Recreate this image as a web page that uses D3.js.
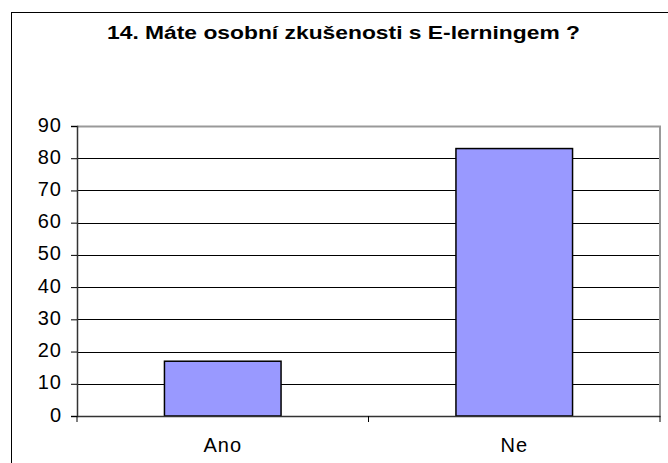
<!DOCTYPE html>
<html>
<head>
<meta charset="utf-8">
<script src="https://cdn.jsdelivr.net/npm/d3@7"></script>
<style>
  body { margin: 0; background: #fff; }
  svg text { font-family: "Liberation Sans", Arial, sans-serif; fill: #000; }
</style>
</head>
<body>
<div id="chart"></div>
<script>
const categories = ['Ano', 'Ne'];
const values = [17, 83];
const yTicks = [0, 10, 20, 30, 40, 50, 60, 70, 80, 90];
const title = '14. Máte osobní zkušenosti s E-lerningem ?';

const width = 668, height = 463;
const plot = {left: 77, right: 660, top: 126, bottom: 416};

const svg = d3.select('#chart').append('svg')
  .attr('width', width)
  .attr('height', height);

// outer chart frame
svg.append('rect')
  .attr('x', 11.5).attr('y', 12.5)
  .attr('width', width).attr('height', height)
  .attr('fill', 'none')
  .attr('stroke', '#000')
  .attr('stroke-width', 1);

svg.append('text')
  .attr('x', 343.5)
  .attr('y', 39)
  .attr('text-anchor', 'middle')
  .attr('font-size', 18)
  .attr('font-weight', 'bold')
  .attr('textLength', 473)
  .attr('lengthAdjust', 'spacingAndGlyphs')
  .text(title);

const xScale = d3.scaleBand()
  .domain(categories)
  .range([plot.left, plot.right]);

const yScale = d3.scaleLinear()
  .domain([0, 90])
  .range([plot.bottom, plot.top]);

// gridlines
svg.append('g')
  .selectAll('line')
  .data(yTicks.filter(d => d > 0 && d < 90))
  .join('line')
    .attr('x1', plot.left)
    .attr('x2', plot.right)
    .attr('y1', d => Math.round(yScale(d)) + 0.5)
    .attr('y2', d => Math.round(yScale(d)) + 0.5)
    .attr('stroke', '#000')
    .attr('stroke-width', 1);

// plot area border (grey top and right)
svg.append('path')
  .attr('d', `M${plot.left},${Math.round(yScale(90)) + 0.5}H${plot.right}V${plot.bottom}`)
  .attr('fill', 'none')
  .attr('stroke', '#999')
  .attr('stroke-width', 2);

// bars
const barW = xScale.bandwidth() * 0.4;
svg.append('g')
  .selectAll('rect')
  .data(values)
  .join('rect')
    .attr('x', (d, i) => xScale(categories[i]) + (xScale.bandwidth() - barW) / 2)
    .attr('y', d => yScale(d))
    .attr('width', barW)
    .attr('height', d => yScale(0) - yScale(d))
    .attr('fill', '#9999ff')
    .attr('stroke', '#000')
    .attr('stroke-width', 1.5);

// y axis
const yAxis = svg.append('g')
  .attr('transform', `translate(${plot.left},0)`)
  .call(d3.axisLeft(yScale).tickValues(yTicks).tickSize(6).tickPadding(9));
yAxis.select('.domain').attr('stroke', '#333').attr('stroke-width', 1.5);
yAxis.selectAll('.tick line').attr('stroke', '#000');
yAxis.selectAll('.tick text')
  .attr('font-size', 20)
  .attr('letter-spacing', 1)
  .attr('dy', '0.25em')
  .attr('font-family', '"Liberation Sans", Arial, sans-serif');

// x axis
const xAxis = svg.append('g')
  .attr('transform', `translate(0,${plot.bottom})`)
  .call(d3.axisBottom(xScale).tickSize(0).tickPadding(22));
xAxis.select('.domain').attr('stroke', '#333').attr('stroke-width', 1.5);
xAxis.selectAll('.tick text')
  .attr('font-size', 20)
  .attr('letter-spacing', 1)
  .attr('font-family', '"Liberation Sans", Arial, sans-serif');

// category separator ticks
svg.append('g')
  .selectAll('line')
  .data(categories.slice(1).concat(['end']))
  .join('line')
    .attr('x1', d => d === 'end' ? plot.right : xScale(d))
    .attr('x2', d => d === 'end' ? plot.right : xScale(d))
    .attr('y1', plot.bottom)
    .attr('y2', plot.bottom + 6)
    .attr('stroke', '#000');
svg.append('line')
  .attr('x1', plot.left).attr('x2', plot.left)
  .attr('y1', plot.bottom).attr('y2', plot.bottom + 6)
  .attr('stroke', '#000');
</script>
</body>
</html>
